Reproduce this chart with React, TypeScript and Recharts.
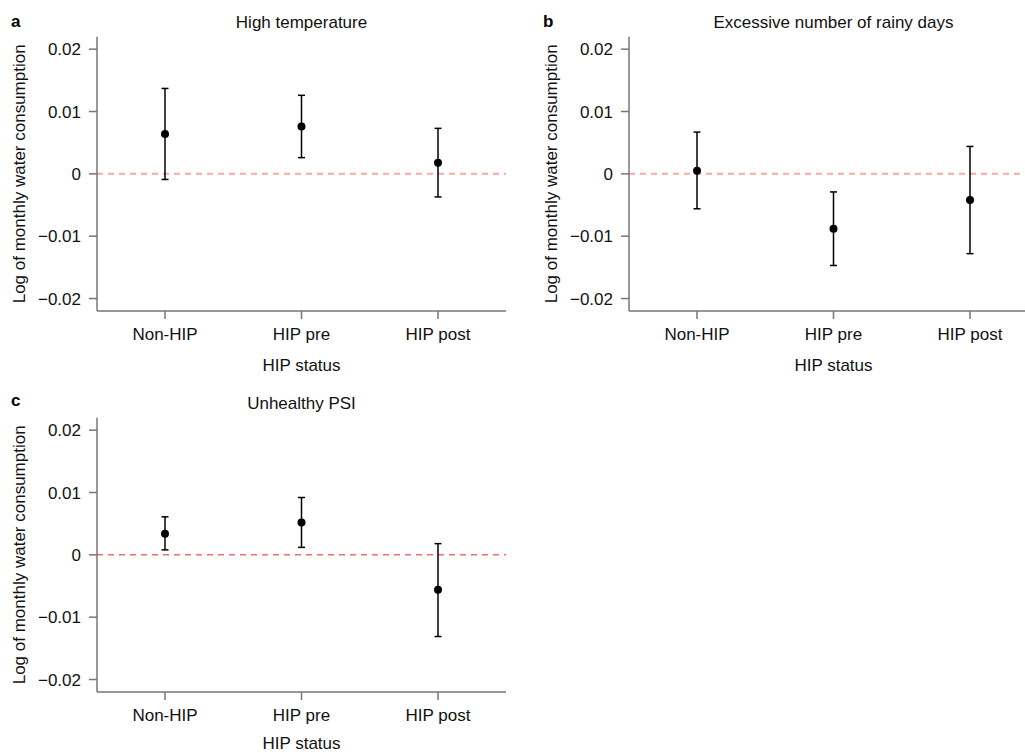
import { ComposedChart, Scatter, ErrorBar, XAxis, YAxis, ReferenceLine } from 'recharts';

const FONT = '"Liberation Sans", Arial, Helvetica, sans-serif';
const AXIS_COLOR = '#767676';

const categories = ['Non-HIP', 'HIP pre', 'HIP post'];
const yTicks = [-0.02, -0.01, 0, 0.01, 0.02];

// a: high temperature
const tempEst = [0.0064, 0.0076, 0.0018];
const tempLow = [-0.0009, 0.0026, -0.0037];
const tempHigh = [0.0137, 0.0126, 0.0073];

// b: excessive number of rainy days
const rainEst = [0.0005, -0.0088, -0.0042];
const rainLow = [-0.0056, -0.0147, -0.0128];
const rainHigh = [0.0067, -0.0029, 0.0044];

// c: unhealthy PSI
const psiEst = [0.0034, 0.0052, -0.0056];
const psiLow = [0.0008, 0.0012, -0.0131];
const psiHigh = [0.0061, 0.0092, 0.0018];

function buildRows(est: number[], low: number[], high: number[]) {
  return categories.map((c, i) => ({
    status: c,
    est: est[i],
    err: [est[i] - low[i], high[i] - est[i]],
  }));
}

const fmtTick = (v: number) => (v === 0 ? '0' : (v < 0 ? '\u2212' : '') + Math.abs(v).toFixed(2));

const YLabel = (props: any) => {
  const vb = props.viewBox || {};
  const cx = vb.x + 20;
  const cy = vb.y + vb.height / 2;
  return (
    <text
      x={cx}
      y={cy}
      transform={`rotate(-90, ${cx}, ${cy})`}
      textAnchor="middle"
      dominantBaseline="central"
      fontFamily={FONT}
      fontSize={17}
      fill="#111"
    >
      Log of monthly water consumption
    </text>
  );
};

const makeXLabel = (offset: number) => (props: any) => {
  const vb = props.viewBox || {};
  return (
    <text
      x={vb.x + vb.width / 2}
      y={vb.y + offset}
      textAnchor="middle"
      fontFamily={FONT}
      fontSize={17}
      fill="#111"
    >
      HIP status
    </text>
  );
};

type PanelProps = {
  left: number;
  top: number;
  width: number;
  height: number;
  marginTop: number;
  marginRight: number;
  xAxisHeight: number;
  xLabelOffset: number;
  rows: ReturnType<typeof buildRows>;
  zeroColor: string;
  zeroWidth: number;
};

function Panel({
  left,
  top,
  width,
  height,
  marginTop,
  marginRight,
  xAxisHeight,
  xLabelOffset,
  rows,
  zeroColor,
  zeroWidth,
}: PanelProps) {
  return (
    <div style={{ position: 'absolute', left, top }}>
      <ComposedChart
        width={width}
        height={height}
        data={rows}
        margin={{ top: marginTop, right: marginRight, bottom: 0, left: 0 }}
      >
        <XAxis
          dataKey="status"
          type="category"
          height={xAxisHeight}
          padding={{ left: 68, right: 68 }}
          axisLine={{ stroke: AXIS_COLOR, strokeWidth: 1.5 }}
          tickLine={{ stroke: AXIS_COLOR, strokeWidth: 1.5 }}
          tickSize={8}
          tickMargin={9}
          tick={{ fontFamily: FONT, fontSize: 17, fill: '#111' }}
          label={makeXLabel(xLabelOffset)}
        />
        <YAxis
          type="number"
          domain={[-0.022, 0.022]}
          ticks={yTicks}
          allowDataOverflow
          width={97}
          axisLine={{ stroke: AXIS_COLOR, strokeWidth: 1.5 }}
          tickLine={{ stroke: AXIS_COLOR, strokeWidth: 1.5 }}
          tickSize={8}
          tickMargin={8}
          tickFormatter={fmtTick}
          tick={{ fontFamily: FONT, fontSize: 17, fill: '#111' }}
          label={<YLabel />}
        />
        <ReferenceLine y={0} stroke={zeroColor} strokeWidth={zeroWidth} strokeDasharray="6 5" />
        <Scatter
          dataKey="est"
          isAnimationActive={false}
          shape={(p: any) => <circle cx={p.cx} cy={p.cy} r={4} fill="#000" />}
        >
          <ErrorBar dataKey="err" direction="y" width={3.5} stroke="#000" strokeWidth={1.5} />
        </Scatter>
      </ComposedChart>
    </div>
  );
}

export default function App() {
  return (
    <div
      style={{
        position: 'absolute',
        left: 0,
        top: 0,
        width: 1025,
        height: 753,
        overflow: 'hidden',
        background: '#fff',
      }}
    >
      <Panel
        left={0}
        top={0}
        width={520}
        height={380}
        marginTop={36.7}
        marginRight={14}
        xAxisHeight={69}
        xLabelOffset={59.7}
        rows={buildRows(tempEst, tempLow, tempHigh)}
        zeroColor="#f7aaa3"
        zeroWidth={2}
      />
      <Panel
        left={532}
        top={0}
        width={506}
        height={380}
        marginTop={36.7}
        marginRight={0}
        xAxisHeight={69}
        xLabelOffset={59.7}
        rows={buildRows(rainEst, rainLow, rainHigh)}
        zeroColor="#f7aaa3"
        zeroWidth={2}
      />
      <Panel
        left={0}
        top={380}
        width={520}
        height={373}
        marginTop={37.7}
        marginRight={14}
        xAxisHeight={61}
        xLabelOffset={57}
        rows={buildRows(psiEst, psiLow, psiHigh)}
        zeroColor="#f26d6d"
        zeroWidth={1.5}
      />
      <svg
        width={1025}
        height={753}
        style={{ position: 'absolute', left: 0, top: 0, pointerEvents: 'none' }}
        fontFamily={FONT}
      >
        <text x={11} y={26.7} fontSize={17} fontWeight="bold" fill="#000">a</text>
        <text x={543} y={26.7} fontSize={17} fontWeight="bold" fill="#000">b</text>
        <text x={11} y={406} fontSize={17} fontWeight="bold" fill="#000">c</text>
        <text x={301.5} y={28} fontSize={17} textAnchor="middle" fill="#111">High temperature</text>
        <text x={833.5} y={28} fontSize={17} textAnchor="middle" fill="#111">Excessive number of rainy days</text>
        <text x={301.5} y={409} fontSize={17} textAnchor="middle" fill="#111">Unhealthy PSI</text>
      </svg>
    </div>
  );
}
